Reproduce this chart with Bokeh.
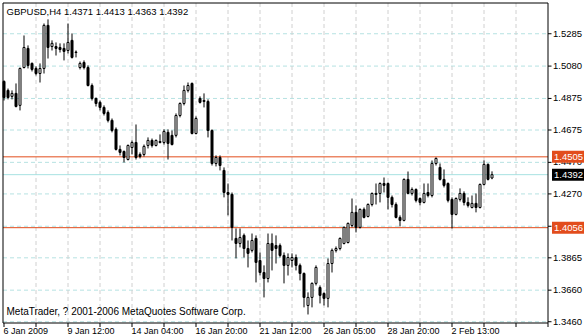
from bokeh.plotting import figure
from bokeh.models import Range1d, ColumnDataSource
from bokeh.embed import file_html
from bokeh.resources import INLINE
from bokeh.core.properties import value

symbol = "GBPUSD,H4"
copyright_text = "MetaTrader, ? 2001-2006 MetaQuotes Software Corp."

opens = [
    1.4983, 1.4926, 1.4888, 1.4907, 1.4831, 1.5071, 1.5192, 1.5097, 1.5065, 1.5033,
    1.5065, 1.5338, 1.5204, 1.5204, 1.5198, 1.5192, 1.5179, 1.5243, 1.5169, 1.5071,
    1.5103, 1.5071, 1.4957, 1.4875, 1.4850, 1.4818, 1.4786, 1.4736, 1.4679, 1.4552,
    1.4539, 1.4488, 1.4564, 1.4596, 1.4520, 1.4520, 1.4577, 1.4609, 1.4577, 1.4602,
    1.4596, 1.4660, 1.4641, 1.4641, 1.4767, 1.4843, 1.4926, 1.4970, 1.4653, 1.4875,
    1.4862, 1.4856, 1.4672, 1.4463, 1.4501, 1.4419, 1.4279, 1.4267, 1.3988, 1.3956,
    1.4007, 1.3924, 1.3912, 1.3988, 1.3848, 1.3772, 1.3734, 1.3956, 1.3943, 1.3943,
    1.3880, 1.3817, 1.3848, 1.3867, 1.3817, 1.3766, 1.3563, 1.3614, 1.3703, 1.3677,
    1.3639, 1.3608, 1.3829, 1.3912, 1.3924, 1.3956, 1.3962, 1.4070, 1.4153, 1.4058,
    1.4172, 1.4127, 1.4203, 1.4273, 1.4273, 1.4336, 1.4336, 1.4248, 1.4203, 1.4121,
    1.4102, 1.4362, 1.4273, 1.4298, 1.4241, 1.4216, 1.4279, 1.4260, 1.4463, 1.4438,
    1.4362, 1.4336, 1.4235, 1.4140, 1.4235, 1.4273, 1.4216, 1.4184, 1.4210, 1.4184,
    1.4330, 1.4457, 1.4371,
]
highs = [
    1.4989, 1.4938, 1.4926, 1.4970, 1.5071, 1.5274, 1.5211, 1.5103, 1.5078, 1.5097,
    1.5350, 1.5376, 1.5243, 1.5230, 1.5224, 1.5224, 1.5350, 1.5287, 1.5179, 1.5109,
    1.5116, 1.5084, 1.4970, 1.4881, 1.4862, 1.4831, 1.4799, 1.4748, 1.4691, 1.4577,
    1.4545, 1.4583, 1.4609, 1.4710, 1.4533, 1.4583, 1.4628, 1.4621, 1.4615, 1.4647,
    1.4679, 1.4679, 1.4672, 1.4780, 1.4850, 1.4957, 1.4976, 1.4976, 1.4761, 1.4888,
    1.4907, 1.4869, 1.4679, 1.4514, 1.4514, 1.4438, 1.4336, 1.4279, 1.4051, 1.4051,
    1.4019, 1.3975, 1.4019, 1.4007, 1.3899, 1.3817, 1.4019, 1.4019, 1.4007, 1.3956,
    1.3899, 1.3893, 1.3893, 1.3886, 1.3829, 1.3772, 1.3646, 1.3709, 1.3817, 1.3690,
    1.3646, 1.3861, 1.3924, 1.3937, 1.3994, 1.4064, 1.4089, 1.4241, 1.4197, 1.4178,
    1.4184, 1.4210, 1.4279, 1.4336, 1.4343, 1.4374, 1.4343, 1.4260, 1.4216, 1.4134,
    1.4368, 1.4412, 1.4311, 1.4305, 1.4248, 1.4336, 1.4336, 1.4482, 1.4501, 1.4463,
    1.4425, 1.4343, 1.4248, 1.4248, 1.4305, 1.4286, 1.4248, 1.4260, 1.4273, 1.4336,
    1.4482, 1.4463, 1.4413,
]
lows = [
    1.4862, 1.4869, 1.4869, 1.4818, 1.4799, 1.5065, 1.5065, 1.5046, 1.5021, 1.4976,
    1.5033, 1.5128, 1.5179, 1.5147, 1.5166, 1.5116, 1.5160, 1.5128, 1.5135, 1.5059,
    1.5059, 1.4951, 1.4862, 1.4824, 1.4799, 1.4767, 1.4723, 1.4660, 1.4545, 1.4514,
    1.4469, 1.4482, 1.4520, 1.4488, 1.4495, 1.4507, 1.4558, 1.4564, 1.4571, 1.4590,
    1.4583, 1.4488, 1.4577, 1.4628, 1.4755, 1.4831, 1.4913, 1.4647, 1.4647, 1.4843,
    1.4818, 1.4628, 1.4450, 1.4444, 1.4419, 1.4248, 1.4134, 1.3975, 1.3861, 1.3931,
    1.3867, 1.3804, 1.3899, 1.3709, 1.3753, 1.3614, 1.3709, 1.3785, 1.3829, 1.3867,
    1.3703, 1.3753, 1.3804, 1.3785, 1.3722, 1.3551, 1.3506, 1.3551, 1.3690, 1.3576,
    1.3563, 1.3551, 1.3772, 1.3899, 1.3912, 1.3950, 1.3956, 1.4058, 1.4026, 1.4051,
    1.4115, 1.4121, 1.4191, 1.4203, 1.4216, 1.4279, 1.4172, 1.4184, 1.4115, 1.4064,
    1.4096, 1.4267, 1.4260, 1.4216, 1.4197, 1.4210, 1.4248, 1.4248, 1.4450, 1.4355,
    1.4311, 1.4216, 1.4051, 1.4134, 1.4222, 1.4197, 1.4184, 1.4178, 1.4153, 1.4178,
    1.4324, 1.4355, 1.4363,
]
closes = [
    1.4881, 1.4881, 1.4907, 1.4824, 1.5065, 1.5198, 1.5084, 1.5059, 1.5033, 1.5065,
    1.5338, 1.5198, 1.5224, 1.5192, 1.5185, 1.5173, 1.5230, 1.5135, 1.5166, 1.5097,
    1.5071, 1.4957, 1.4875, 1.4843, 1.4818, 1.4780, 1.4736, 1.4672, 1.4552, 1.4533,
    1.4501, 1.4577, 1.4596, 1.4501, 1.4507, 1.4571, 1.4609, 1.4577, 1.4609, 1.4596,
    1.4666, 1.4590, 1.4583, 1.4767, 1.4843, 1.4926, 1.4957, 1.4653, 1.4748, 1.4850,
    1.4856, 1.4672, 1.4463, 1.4501, 1.4450, 1.4279, 1.4267, 1.4058, 1.3956, 1.3994,
    1.3924, 1.3893, 1.3975, 1.3836, 1.3772, 1.3734, 1.3956, 1.3912, 1.3924, 1.3880,
    1.3817, 1.3867, 1.3867, 1.3817, 1.3766, 1.3614, 1.3614, 1.3703, 1.3804, 1.3627,
    1.3608, 1.3829, 1.3912, 1.3924, 1.3988, 1.4058, 1.4083, 1.4153, 1.4058, 1.4172,
    1.4121, 1.4203, 1.4273, 1.4267, 1.4336, 1.4324, 1.4248, 1.4203, 1.4121, 1.4102,
    1.4362, 1.4273, 1.4298, 1.4229, 1.4216, 1.4273, 1.4260, 1.4463, 1.4495, 1.4362,
    1.4324, 1.4229, 1.4140, 1.4241, 1.4273, 1.4216, 1.4197, 1.4210, 1.4184, 1.4330,
    1.4457, 1.4362, 1.4392,
]

y_tick_labels = ["1.5285", "1.5080", "1.4875", "1.4675", "1.4470",
                 "1.4270", "1.4065", "1.3865", "1.3660", "1.3460"]
x_tick_labels = ["6 Jan 2009", "9 Jan 12:00", "14 Jan 04:00", "16 Jan 20:00",
                 "21 Jan 12:00", "26 Jan 05:00", "28 Jan 20:00", "2 Feb 13:00"]
level_prices = [1.4505, 1.4056]

FONT = "Liberation Sans"
ORANGE = "#e24c1c"
BIDLINE = "#a8e2e2"
HGRID = "#b6e2e2"
VGRID = "#d0d0d0"

# ---- layout (pixels of the 584x336 window) ----
W, H = 584, 336
BAR_PX = 4.0          # horizontal pixels per H4 bar
BAR0_PX = 3.5         # pixel centre of the first bar
K = 1578.0            # vertical pixels per unit of price
P_AT_2 = 1.5483       # price at pixel row 2 (top edge of the chart frame)
FR_L, FR_R, FR_T, FR_B = 2.5, 547.5, 2.5, 322.5


def px2x(px):
    return (px - BAR0_PX) / BAR_PX


def py2p(py):
    return P_AT_2 - (py - 2.0) / K


n = len(opens)
xs = list(range(n))
src = ColumnDataSource(dict(
    x=xs, o=opens, h=highs, l=lows, c=closes,
    top=[max(a, b) for a, b in zip(opens, closes)],
    bottom=[min(a, b) for a, b in zip(opens, closes)],
    fill=["white" if c >= o else "black" for o, c in zip(opens, closes)],
))

p = figure(width=W, height=H,
           x_range=Range1d(px2x(0), px2x(W)), y_range=Range1d(py2p(H), py2p(0)),
           toolbar_location=None, output_backend="svg",
           x_axis_location=None, y_axis_location=None,
           min_border=0, min_border_left=0, min_border_right=0,
           min_border_top=0, min_border_bottom=0)
p.background_fill_color = "white"
p.border_fill_color = "white"
p.outline_line_color = None
p.grid.visible = False

xl, xr = px2x(FR_L), px2x(FR_R)
yt_, yb_ = py2p(FR_T), py2p(FR_B)

# ---- grid ----
ytick_vals = [float(s) for s in y_tick_labels]
p.segment(x0=[xl] * len(ytick_vals), x1=[xr] * len(ytick_vals), y0=ytick_vals, y1=ytick_vals,
          line_color=HGRID, line_width=1, line_dash="4 3")
vg = list(range(8, 136, 8))
p.segment(x0=vg, x1=vg, y0=[yt_] * len(vg), y1=[yb_] * len(vg),
          line_color=VGRID, line_width=1, line_dash="4 3")

# ---- level lines and bid line ----
p.segment(x0=[xl] * len(level_prices), x1=[xr] * len(level_prices),
          y0=level_prices, y1=level_prices, line_color=ORANGE, line_width=1)
p.segment(x0=[xl], x1=[xr], y0=[closes[-1]], y1=[closes[-1]], line_color=BIDLINE, line_width=1)

# ---- candles ----
p.segment(x0="x", y0="h", x1="x", y1="l", source=src, line_color="black", line_width=1)
p.vbar(x="x", width=0.5, top="top", bottom="bottom", source=src,
       fill_color="fill", line_color="black", line_width=1)

# ---- frame ----
p.quad(left=[xl], right=[xr], top=[yt_], bottom=[yb_], fill_color=None,
       line_color="black", line_width=1)

# ---- price scale (right) ----
p.segment(x0=[xr] * len(ytick_vals), x1=[px2x(FR_R + 3.5)] * len(ytick_vals),
          y0=ytick_vals, y1=ytick_vals, line_color="black", line_width=1)
p.text(x=[px2x(552.5)] * len(ytick_vals), y=ytick_vals, text=y_tick_labels,
       text_font=value(FONT), text_font_size=value("9.5px"), text_color="black",
       text_align="left", text_baseline="middle")

# price boxes
box_prices = level_prices + [closes[-1]]
box_colors = [ORANGE] * len(level_prices) + ["black"]
half = 6.0 / K
p.quad(left=[px2x(551.5)] * 3, right=[px2x(W)] * 3,
       top=[v + half for v in box_prices], bottom=[v - half for v in box_prices],
       fill_color=box_colors, line_color=None)
p.text(x=[px2x(553.5)] * 3, y=box_prices, text=[f"{v:.4f}" for v in box_prices],
       text_font=value(FONT), text_font_size=value("9.5px"), text_color="white",
       text_align="left", text_baseline="middle")

# ---- time scale (bottom) ----
xt = list(range(0, 137, 8))
p.segment(x0=xt, x1=xt, y0=[yb_] * len(xt), y1=[py2p(FR_B + 4)] * len(xt),
          line_color="black", line_width=1)
p.text(x=[16 * k - 0.125 for k in range(len(x_tick_labels))],
       y=[py2p(330.0)] * len(x_tick_labels), text=x_tick_labels,
       text_font=value(FONT), text_font_size=value("9px"), text_color="black",
       text_align="left", text_baseline="middle")

# ---- header and copyright ----
head = f"{symbol}  {opens[-1]:.4f} {highs[-1]:.4f} {lows[-1]:.4f} {closes[-1]:.4f}"
p.text(x=[px2x(6)], y=[py2p(11.0)], text=[head],
       text_font=value(FONT), text_font_size=value("9.5px"), text_color="black",
       text_align="left", text_baseline="middle")
p.text(x=[px2x(6)], y=[py2p(310.5)], text=[copyright_text],
       text_font=value(FONT), text_font_size=value("10px"), text_color="black",
       text_align="left", text_baseline="middle")

open("out.html", "w").write(file_html(p, INLINE))
